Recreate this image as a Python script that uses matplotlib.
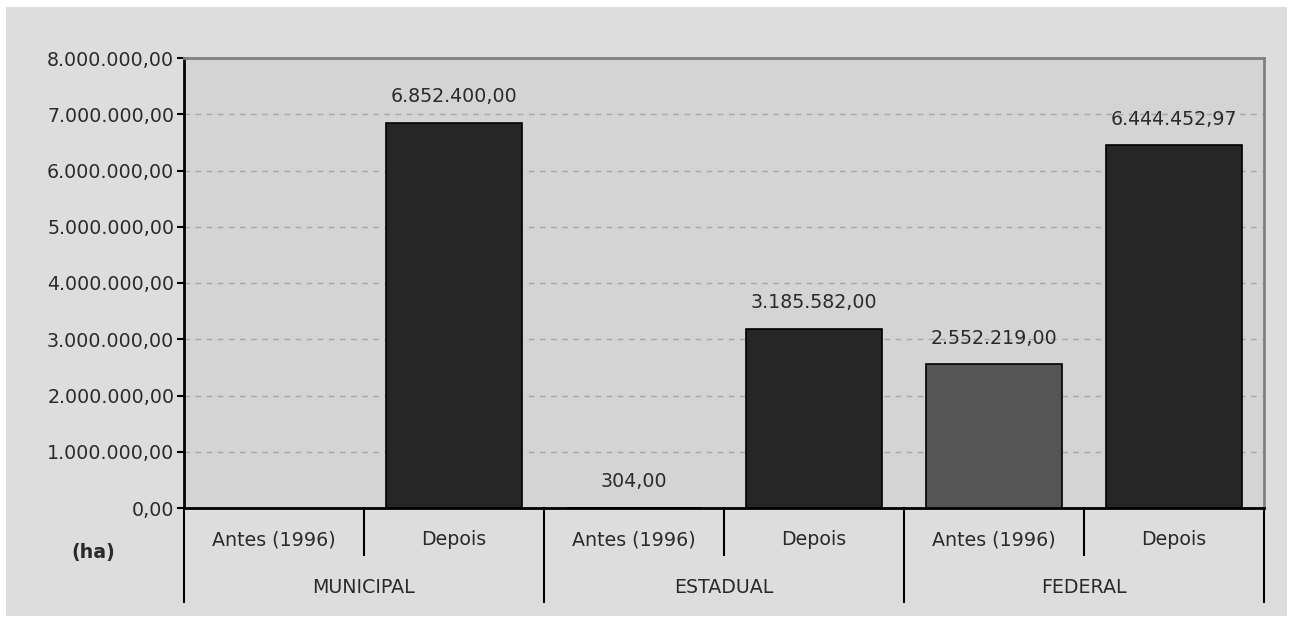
import matplotlib.pyplot as plt
import matplotlib.transforms as mtransforms
from matplotlib.patches import Rectangle
import numpy as np

# área por esfera (ha), antes de 1996 e depois
esferas = ['MUNICIPAL', 'ESTADUAL', 'FEDERAL']
periodos = ['Antes (1996)', 'Depois']
antes = [None, 304.00, 2552219.00]
depois = [6852400.00, 3185582.00, 6444452.97]
bar_colors = {'MUNICIPAL': ['#262626', '#262626'],
              'ESTADUAL': ['#262626', '#262626'],
              'FEDERAL': ['#555555', '#262626']}


def fmt_br(v):
    s = f"{v:,.2f}"
    return s.replace(',', 'X').replace('.', ',').replace('X', '.')


plt.rcParams['font.family'] = 'DejaVu Sans'
plt.rcParams['font.size'] = 13.7

fig = plt.figure(figsize=(12.94, 6.23), dpi=100, facecolor='white')
fig.patches.append(Rectangle((6 / 1294, 7 / 623), 1281 / 1294, 609 / 623,
                             transform=fig.transFigure, facecolor='#dddddd',
                             edgecolor='none', zorder=-10))
ax = fig.add_axes([184 / 1294, 115 / 623, 1080 / 1294, 450 / 623])
ax.set_facecolor('#d4d4d4')

vals = []
cols = []
for i, esf in enumerate(esferas):
    vals += [antes[i], depois[i]]
    cols += bar_colors[esf]

x = np.arange(len(vals))
for xi, v, c in zip(x, vals, cols):
    if v is None:
        continue
    ax.bar(xi, v, width=0.76, color=c, edgecolor='black', linewidth=1.2, zorder=3)
    ax.annotate(fmt_br(v), (xi, v), xytext=(0, 19), textcoords='offset points',
                ha='center', va='center', color='#2a2a2a')

ax.set_xlim(-0.5, len(vals) - 0.5)
ax.set_ylim(0, 8000000)
ax.set_yticks(np.arange(0, 8000001, 1000000))
ax.set_yticklabels([fmt_br(t) for t in np.arange(0, 8000001, 1000000)], color='#2a2a2a')
ax.yaxis.grid(True, linestyle=(0, (4, 4)), color='#a6a6a6', linewidth=1, zorder=1)
ax.set_axisbelow(True)
ax.set_xticks([])
ax.tick_params(axis='y', length=5, width=1.5, pad=2)

for side in ['top', 'right']:
    ax.spines[side].set_color('#808080')
    ax.spines[side].set_linewidth(2)
ax.spines['left'].set_linewidth(2)
ax.spines['bottom'].set_linewidth(2)

# eixo categórico em dois níveis
trans = mtransforms.blended_transform_factory(ax.transData, ax.transAxes)
for i in range(len(esferas) + 1):
    xb = 2 * i - 0.5
    ax.plot([xb, xb], [0, -0.209], transform=trans, color='black', lw=1.5, clip_on=False)
for i, esf in enumerate(esferas):
    ax.plot([2 * i + 0.5] * 2, [0, -0.104], transform=trans, color='black', lw=1.5, clip_on=False)
    ax.text(2 * i + 0.5, -0.176, esf, transform=trans, ha='center', va='center', color='#2a2a2a')
    for j, p in enumerate(periodos):
        ax.text(2 * i + j, -0.071, p, transform=trans, ha='center', va='center', color='#2a2a2a')

ax.text(-1.006, -0.098, '(ha)', transform=trans, ha='center', va='center',
        fontweight='bold', color='#2a2a2a')

fig.savefig('out.png', dpi=100, facecolor=fig.get_facecolor())
